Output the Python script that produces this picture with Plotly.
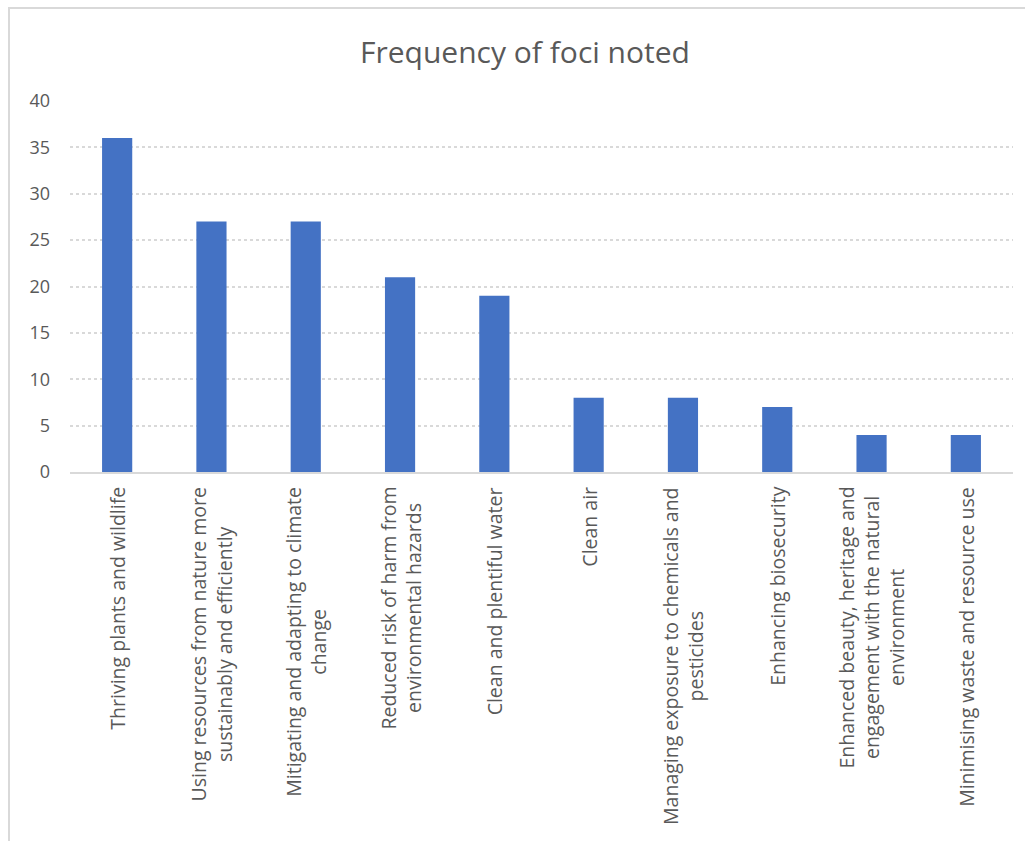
import plotly.graph_objects as go

categories = [
    "Thriving plants and wildlife",
    "Using resources from nature more<br>sustainably and efficiently",
    "Mitigating and adapting to climate<br>change",
    "Reduced risk of harm from<br>environmental hazards",
    "Clean and plentiful water",
    "Clean air",
    "Managing exposure to chemicals and<br>pesticides",
    "Enhancing biosecurity",
    "Enhanced beauty, heritage and<br>engagement with the natural<br>environment",
    "Minimising waste and resource use",
]
values = [36, 27, 27, 21, 19, 8, 8, 7, 4, 4]
y_ticks = [0, 5, 10, 15, 20, 25, 30, 35, 40]

W, H = 1025, 841
L, R, T, B = 70, 12, 101, 369
FONT = "Open Sans, Lato, sans-serif"
GREY = "#595959"

fig = go.Figure()
fig.add_trace(go.Bar(
    x=list(range(len(categories))), y=values,
    marker=dict(color="#4472C4", line=dict(width=0)),
    hoverinfo="y",
))

for i, c in enumerate(categories):
    fig.add_annotation(
        x=i, y=0, xref="x", yref="y", text=c, textangle=-90,
        showarrow=False, xanchor="center", yanchor="top", yshift=-13,
        align="center", font=dict(family=FONT, size=19.5, color=GREY),
    )

pw, ph = W - L - R, H - T - B
def px(x): return (x - L) / pw
def py(y): return (H - B - y) / ph

fig.add_shape(type="rect", xref="paper", yref="paper",
              x0=px(9), x1=px(1040), y0=py(8), y1=py(860),
              line=dict(color="#D9D9D9", width=2), fillcolor="rgba(0,0,0,0)")

fig.update_layout(
    width=W, height=H,
    margin=dict(l=L, r=R, t=T, b=B, pad=0),
    paper_bgcolor="white", plot_bgcolor="white",
    showlegend=False,
    bargap=0.68,
    title=dict(text="Frequency of foci noted", x=px(525), xref="paper", xanchor="center",
               y=1 - 52 / H, yanchor="middle",
               font=dict(family=FONT, size=30, color=GREY)),
    xaxis=dict(range=[-0.5, len(categories) - 0.5], showticklabels=False,
               showgrid=False, zeroline=False, showline=True,
               linecolor="#D9D9D9", linewidth=2, ticks=""),
    yaxis=dict(range=[0, 40], tickvals=y_ticks, showgrid=True,
               gridcolor="#D9D9D9", griddash="dot", gridwidth=1.5,
               zeroline=False, showline=False, ticks="",
               ticklabelstandoff=19,
               tickfont=dict(family=FONT, size=18, color=GREY)),
)

fig.write_html("out.html")
